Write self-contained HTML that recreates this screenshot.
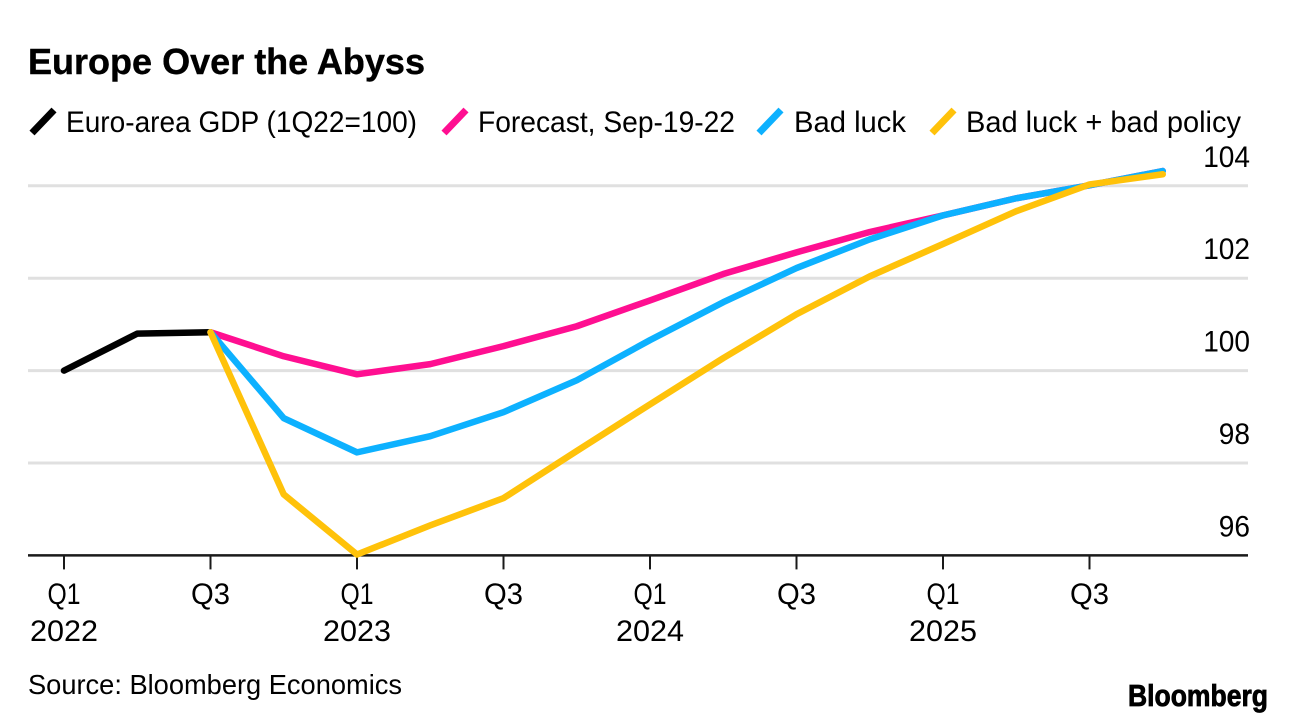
<!DOCTYPE html>
<html lang="en">
<head>
<meta charset="utf-8">
<title>Europe Over the Abyss</title>
<style>
html,body{margin:0;padding:0;background:#fff;}
svg{display:block;font-family:"Liberation Sans",Arial,sans-serif;fill:#000;}
</style>
</head>
<body>
<svg id="chart" xmlns="http://www.w3.org/2000/svg" width="1296" height="724" viewBox="0 0 1296 724">
  <rect x="0" y="0" width="1296" height="724" fill="#ffffff"/>
  <text x="28" y="74" font-size="36" font-weight="700" stroke="#000" stroke-width="0.4" textLength="397" lengthAdjust="spacingAndGlyphs">Europe Over the Abyss</text>
  <g font-size="30">
    <line x1="32" y1="133" x2="54" y2="110" stroke="#000000" stroke-width="7"/>
    <text x="66" y="132" textLength="351" lengthAdjust="spacingAndGlyphs">Euro-area GDP (1Q22=100)</text>
    <line x1="444" y1="133" x2="466" y2="110" stroke="#ff0f91" stroke-width="7"/>
    <text x="478" y="132" textLength="257" lengthAdjust="spacingAndGlyphs">Forecast, Sep-19-22</text>
    <line x1="759" y1="133" x2="781" y2="110" stroke="#0db1ff" stroke-width="7"/>
    <text x="794" y="132" textLength="112" lengthAdjust="spacingAndGlyphs">Bad luck</text>
    <line x1="932" y1="133" x2="954" y2="110" stroke="#ffc20a" stroke-width="7"/>
    <text x="966" y="132" textLength="275" lengthAdjust="spacingAndGlyphs">Bad luck + bad policy</text>
  </g>
  <g id="grid"></g>
  <g id="ylabels" font-size="30"></g>
  <line id="baseline" stroke="#1a1a1a" stroke-width="2.5"/>
  <g id="xaxis" font-size="30"></g>
  <g id="series"></g>
  <text x="28" y="694" font-size="28" textLength="374" lengthAdjust="spacingAndGlyphs">Source: Bloomberg Economics</text>
  <text x="1128" y="706" font-size="31" font-weight="700" stroke="#000" stroke-width="0.8" textLength="140" lengthAdjust="spacingAndGlyphs">Bloomberg</text>
</svg>
<script>
var quarterIndex = [0,1,2,3,4,5,6,7,8,9,10,11,12,13,14,15];
var gdpValues = [100, 100.8, 100.83];
var forecastValues = [100.83,100.31,99.92,100.14,100.53,100.96,101.52,102.09,102.56,103.0,103.36,103.73,104.01,104.32];
var badLuckValues = [100.83,98.97,98.23,98.58,99.1,99.79,100.66,101.48,102.22,102.84,103.36,103.73,104.01,104.32];
var badPolicyValues = [100.83,97.32,96.02,96.65,97.24,98.26,99.27,100.27,101.22,102.04,102.74,103.45,104.03,104.25];
var yTicks = [96,98,100,102,104];
var xTickQuarters = [0,2,4,6,8,10,12,14];
var xTickLabels = ['Q1','Q3','Q1','Q3','Q1','Q3','Q1','Q3'];
var xYearLabels = ['2022','','2023','','2024','','2025',''];
var yBaselineValue = 96;

function xScale(q){ return 64 + q * 73.25; }
function yScale(v){ return 370.6 - (v - 100) * 46.2; }

var NS = 'http://www.w3.org/2000/svg';
function mk(tag, parent, attrs){
  var el = document.createElementNS(NS, tag);
  for (var k in attrs) el.setAttribute(k, attrs[k]);
  parent.appendChild(el);
  return el;
}

var grid = document.getElementById('grid');
var ylabels = document.getElementById('ylabels');
yTicks.forEach(function(v){
  var s = String(v);
  var w = s.length * 15.6;
  var label = mk('text', ylabels, {x: 1250 - w, y: yScale(v) - 19, textLength: w, lengthAdjust: 'spacingAndGlyphs'});
  
  
  label.textContent = s;
  if (v === yBaselineValue) return;
  var line = mk('line', grid, {x1: 28, x2: 1248, y1: yScale(v), y2: yScale(v), stroke: '#e0e0e0', 'stroke-width': 3});
  
  
});

var base = document.getElementById('baseline');
base.setAttribute('x1', 28);
base.setAttribute('x2', 1248);
base.setAttribute('y1', yScale(yBaselineValue));
base.setAttribute('y2', yScale(yBaselineValue));

var xaxis = document.getElementById('xaxis');
xTickQuarters.forEach(function(q, i){
  var x = xScale(q);
  var y0 = yScale(yBaselineValue);
  var tick = mk('line', xaxis, {x1: x, x2: x, y1: y0, y2: y0 + 14, stroke: '#1a1a1a', 'stroke-width': 2});
  
  
  var qw = xTickLabels[i] === 'Q1' ? 33 : 39;
  var ql = mk('text', xaxis, {x: x - qw / 2, y: 604, textLength: qw, lengthAdjust: 'spacingAndGlyphs'});
  
  
  ql.textContent = xTickLabels[i];
  if (xYearLabels[i]) {
    var yl = mk('text', xaxis, {x: x - 34, y: 641, textLength: 68, lengthAdjust: 'spacingAndGlyphs'});
    
    
    yl.textContent = xYearLabels[i];
  }
});

var seriesGroup = document.getElementById('series');
function drawSeries(values, startQuarter, color, name){
  var pts = values.map(function(v, i){
    return xScale(quarterIndex[startQuarter + i]).toFixed(2) + ',' + yScale(v).toFixed(2);
  }).join(' ');
  var line = mk('polyline', seriesGroup, {points: pts, fill: 'none', stroke: color, 'stroke-width': 6.5, 'stroke-linejoin': 'round', 'stroke-linecap': 'round'});
  
  
}
drawSeries(gdpValues, 0, '#000000', 'line-euro-area-gdp');
drawSeries(forecastValues, 2, '#ff0f91', 'line-forecast');
drawSeries(badLuckValues, 2, '#0db1ff', 'line-bad-luck');
drawSeries(badPolicyValues, 2, '#ffc20a', 'line-bad-luck-bad-policy');
</script>
</body>
</html>
